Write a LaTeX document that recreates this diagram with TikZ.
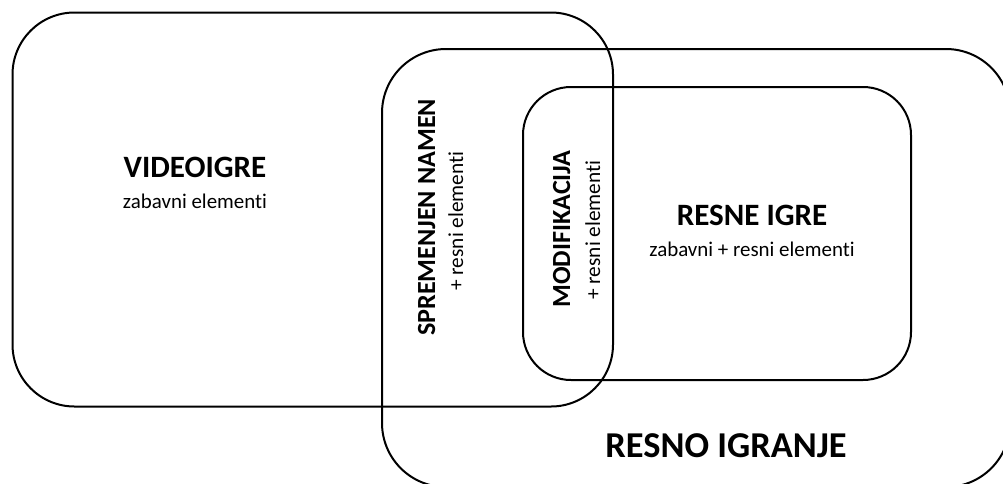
\documentclass[tikz,border=0pt]{standalone}
\usepackage{fontspec}
\setmainfont{Carlito}[Ligatures={NoCommon,NoRequired,NoContextual}]
\begin{document}
\begin{tikzpicture}[x=0.75pt,y=-0.75pt,
  region/.style={draw=black,line width=1.5pt},
  title/.style={font=\fontsize{23.3}{26}\selectfont\bfseries,anchor=base,inner sep=0pt},
  bigtitle/.style={font=\fontsize{27.3}{30}\selectfont\bfseries,anchor=base,inner sep=0pt},
  vtitle/.style={font=\fontsize{19.6}{22}\selectfont\bfseries,anchor=base,inner sep=0pt,rotate=90},
  sub/.style={font=\fontsize{15.7}{18}\selectfont,anchor=base,inner sep=0pt},
  vsub/.style={font=\fontsize{16}{18}\selectfont,anchor=base,inner sep=0pt,rotate=90}]
\useasboundingbox (0,0) rectangle (1003,483);
\draw[region,rounded corners=46.5pt] (12.5,12.5) rectangle (613,406.5);
\draw[region,rounded corners=48pt] (382,49) rectangle (1010,487);
\draw[region,rounded corners=36pt] (523,87) rectangle (911,380);
\node[title] (vt) at (195,177) {VIDEOIGRE};
\node[sub] (vs) at (195,208) {zabavni elementi};
\node[title] (rt) at (752,225) {RESNE IGRE};
\node[sub] (rs) at (752,256) {zabavni + resni elementi};
\node[bigtitle] (ri) at (726,457) {RESNO IGRANJE};
\node[vtitle] (sn) at (435,217.5) {SPREMENJEN NAMEN};
\node[vsub] (sns) at (463,221) {+ resni elementi};
\node[vtitle] (md) at (570,229) {MODIFIKACIJA};
\node[vsub] (mds) at (600,230) {+ resni elementi};
\end{tikzpicture}
\end{document}
